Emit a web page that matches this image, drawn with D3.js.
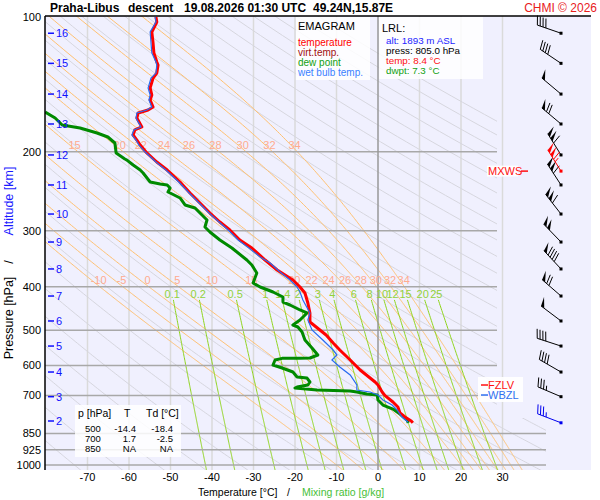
<!DOCTYPE html>
<html>
<head>
<meta charset="utf-8">
<title>Emagram</title>
<script src="https://d3js.org/d3.v7.min.js"></script>
<style>
body { margin: 0; background: #fff; }
text { font-family: "Liberation Sans", Arial, sans-serif; }
</style>
</head>
<body>
<div id="chart"></div>
<script>
// ---- data ----
const pressureTicks = [100, 200, 300, 400, 500, 600, 700, 850, 925, 1000];
const isobars = [200, 300, 400, 500, 600, 700, 850, 925, 1000];
const tempTicks = [-70, -60, -50, -40, -30, -20, -10, 0, 10, 20, 30];
const isotherms = [-70, -60, -50, -40, -30, -20, -10, 0, 10, 20, 30];

const altKm = [2, 3, 4, 5, 6, 7, 8, 9, 10, 11, 12, 13, 14, 15, 16];
const altP = [797.6, 703.9, 620.1, 542.6, 477.0, 419.6, 365.1, 317.9, 275.3, 237.1, 203.2, 173.3, 148.6, 126.9, 108.7];

const dryTheta = [200, 210, 220, 230, 240, 250, 260, 270, 280, 290, 300, 310, 320, 330, 340, 350, 360, 370, 380, 390, 400, 410, 420, 430, 440, 450, 460, 470, 480, 490, 500];
const moistThetaW = [-10, -5, 0, 5, 10, 15, 20, 22, 24, 26, 28, 30, 32, 34];
const mixRatios = [0.1, 0.2, 0.5, 1, 1.4, 2, 3, 4, 6, 8, 10, 12, 15, 20, 25];

// temperature profile (p hPa, T degC)
const tempP = [100, 102.6, 108.0, 114.3, 120.3, 126.0, 128.0, 133.4, 136.8, 144.0, 149.3, 153.2, 158.8, 161.3, 163.8, 168.1, 176.0, 178.7, 183.4, 188.2, 193.1, 200.2, 210.7, 219.6, 233.5, 247.1, 260.1, 273.9, 286.8, 298.9, 314.6, 327.8, 348.7, 367.0, 386.4, 400.6, 413.1, 434.9, 457.8, 479.5, 492.0, 512.7, 534.2, 553.8, 582.9, 613.7, 652.7, 662.9, 687.2, 700.0, 723.5, 742.3, 765.5, 781.4, 797.6, 805.0];
const tempT = [-53.5, -53.3, -54.5, -54.2, -54.0, -53.3, -53.0, -53.3, -54.2, -54.9, -54.5, -54.9, -54.2, -55.4, -57.8, -58.1, -56.9, -58.6, -59.0, -58.1, -57.3, -55.9, -53.3, -50.8, -47.7, -45.3, -42.9, -40.5, -38.1, -35.7, -33.3, -30.4, -27.2, -24.3, -20.5, -18.8, -17.6, -16.9, -16.4, -16.4, -14.9, -12.5, -10.8, -9.2, -6.7, -4.3, -0.7, 0.0, 1.0, 1.7, 3.6, 4.8, 5.3, 6.5, 8.0, 8.4];

// dew point profile
const dewP = [163.0, 168.1, 174.2, 176.9, 181.5, 185.3, 191.1, 201.2, 207.5, 208.6, 214.0, 219.6, 223.0, 233.5, 235.9, 237.1, 240.8, 245.8, 248.4, 253.5, 262.8, 266.9, 276.7, 283.9, 294.3, 301.9, 314.6, 327.8, 348.7, 357.8, 372.8, 392.4, 400.6, 411.0, 421.7, 432.7, 439.4, 450.8, 457.8, 474.6, 487.0, 492.0, 504.8, 526.0, 548.1, 568.2, 577.0, 577.5, 578.0, 582.9, 598.1, 607.4, 620.1, 636.2, 639.5, 652.7, 662.9, 669.8, 673.2, 680.2, 683.6, 687.2, 694.3, 697.9, 716.0, 734.7, 750.0, 769.5, 793.6, 805.0];
const dewT = [-80.2, -77.8, -76.1, -71.8, -67.7, -65.1, -63.4, -63.1, -61.0, -60.5, -59.0, -57.3, -56.6, -54.9, -52.5, -50.8, -50.1, -50.6, -49.6, -47.7, -46.5, -44.1, -42.4, -41.2, -41.7, -40.5, -38.1, -35.2, -31.6, -30.4, -29.2, -30.1, -28.4, -25.3, -22.9, -22.9, -21.2, -18.8, -17.1, -18.8, -20.5, -19.3, -18.3, -17.6, -15.9, -14.5, -16.4, -18.8, -23.1, -24.8, -25.3, -23.1, -20.5, -19.5, -17.1, -16.4, -16.9, -19.5, -20.0, -14.7, -6.7, -5.1, -2.7, -0.2, 0.0, 1.2, 3.6, 5.3, 7.0, 7.3];

// wet bulb temperature profile
const wetP = [100, 102.6, 108.0, 114.3, 120.3, 126.0, 128.0, 133.4, 136.8, 144.0, 149.3, 153.2, 158.8, 161.3, 163.8, 168.1, 176.0, 178.7, 183.4, 188.2, 193.1, 200.2, 210.7, 219.6, 233.5, 247.1, 260.1, 273.9, 286.8, 298.9, 314.6, 327.8, 343.3, 354.1, 370.9, 386.4, 400.6, 411.0, 428.2, 457.8, 474.6, 499.6, 526.0, 553.8, 568.2, 582.9, 604.3, 629.7, 662.9, 680.2, 687.2, 697.9, 716.0, 734.7, 753.8, 781.4, 801.8];
const wetT = [-53.7, -53.5, -54.9, -54.7, -54.5, -53.5, -53.3, -53.5, -54.7, -55.4, -54.9, -55.2, -54.5, -55.7, -58.1, -58.3, -57.1, -58.8, -59.3, -58.3, -57.6, -56.1, -53.5, -51.1, -48.0, -45.5, -43.1, -40.7, -38.3, -36.1, -33.7, -31.1, -28.4, -26.0, -23.6, -21.2, -19.5, -18.8, -18.1, -16.4, -16.9, -15.9, -13.3, -10.8, -9.9, -11.1, -9.2, -6.7, -5.1, -5.1, -1.9, 0.0, 1.2, 3.4, 4.6, 5.8, 7.2];

// winds, one barb per km level (direction deg, speed kt)
const windP = [703.9, 620.1, 542.6, 477.0, 419.6, 365.1, 317.9, 275.3, 237.1, 203.2, 173.3, 148.6, 126.9, 108.7];
const windDir = [293, 300, 288, 307, 311, 317, 316, 322, 327, 328, 310, 310, 304, 289];
const windSpd = [35, 40, 40, 50, 70, 90, 100, 110, 110, 110, 70, 50, 40, 40];
const mxwsP = 220.8, mxwsDir = 328, mxwsSpd = 115;
const lrlP = 805.0, lrlDir = 291, lrlSpd = 35;
const fzlvP = 662.9, wbzlP = 697.9;

const tableRows = [["500", "-14.4", "-18.4"], ["700", "1.7", "-2.5"], ["850", "NA", "NA"]];

// ---- drawing ----
const W = 600, H = 500;
const svg = d3.select("#chart").append("svg").attr("width", W).attr("height", H);

const x = d3.scaleLinear().domain([-80, 40]).range([46, 544]);
const y = d3.scaleLog().domain([100, 1000]).range([17, 465]);
const line = d3.line().x(d => x(d[1])).y(d => y(d[0]));

svg.append("rect").attr("x", 45).attr("y", 16).attr("width", 546).attr("height", 454).attr("fill", "#f0f0fe");

svg.append("defs").append("clipPath").attr("id", "diag")
    .append("path").attr("d", "M45,16H497V418H546V470H45Z");

// isotherms
svg.append("g").selectAll("line").data(isotherms.filter(t => t !== 0)).join("line")
    .attr("x1", d => x(d)).attr("x2", d => x(d)).attr("y1", 16).attr("y2", 470)
    .attr("stroke", "#dadada").attr("stroke-width", 1.5);

const diag = svg.append("g").attr("clip-path", "url(#diag)");

// dry adiabats
const pSteps = d3.range(95, 1061, 5);
diag.append("g").selectAll("path").data(dryTheta).join("path")
    .attr("d", th => line(pSteps.map(p => [p, th * Math.pow(p / 1000, 0.2857) - 273.15])))
    .attr("fill", "none").attr("stroke", "#d6d6de").attr("stroke-width", 1);

// moist (pseudo) adiabats
function dTdp(p, T) {
    const tc = T - 273.15;
    const e = 6.112 * Math.exp(17.67 * tc / (tc + 243.5));
    const r = 0.622 * e / (p - e);
    return (287.04 * T + 2.501e6 * r) / (p * (1005.7 + 2.501e6 * 2.501e6 * r * 0.622 / (287.04 * T * T)));
}
function moist(thw) {
    const up = [], down = [];
    let T = thw + 273.15, p = 1000, dp = -2;
    up.push([p, T - 273.15]);
    while (p > 95) {
        const k1 = dTdp(p, T), k2 = dTdp(p + dp / 2, T + k1 * dp / 2);
        T += k2 * dp; p += dp; up.push([p, T - 273.15]);
    }
    T = thw + 273.15; p = 1000; dp = 2;
    while (p < 1060) {
        const k1 = dTdp(p, T), k2 = dTdp(p + dp / 2, T + k1 * dp / 2);
        T += k2 * dp; p += dp; down.push([p, T - 273.15]);
    }
    return down.reverse().concat(up);
}
const moistLines = moistThetaW.map(t => ({ t, pts: moist(t) }));
diag.append("g").selectAll("path").data(moistLines).join("path")
    .attr("d", d => line(d.pts))
    .attr("fill", "none").attr("stroke", "#ffc070").attr("stroke-width", 1);

function tAt(pts, p) {
    const sorted = pts.slice().sort((a, b) => a[0] - b[0]);
    const i = d3.bisector(d => d[0]).left(sorted, p);
    const a = sorted[Math.max(0, i - 1)], b = sorted[Math.min(sorted.length - 1, i)];
    if (a[0] === b[0]) return a[1];
    return a[1] + (b[1] - a[1]) * (p - a[0]) / (b[0] - a[0]);
}

// mixing ratio lines
function tdOf(p, w) {
    const e = w * p / (622 + w);
    const L = Math.log(e / 6.112);
    return 243.5 * L / (17.67 - L);
}
const mixP = d3.range(428, 1036, 4);
diag.append("g").selectAll("path").data(mixRatios).join("path")
    .attr("d", w => line(mixP.map(p => [p, tdOf(p, w)])))
    .attr("fill", "none").attr("stroke", "#8fd41c").attr("stroke-width", 1);

// isobars
diag.append("g").selectAll("line").data(isobars).join("line")
    .attr("x1", 45).attr("x2", 546).attr("y1", d => y(d)).attr("y2", d => y(d))
    .attr("stroke", "#a8a8a8").attr("stroke-width", 1.5);

// 0 degC isotherm
svg.append("line").attr("x1", x(0)).attr("x2", x(0)).attr("y1", 16).attr("y2", 470)
    .attr("stroke", "#999").attr("stroke-width", 1.5);

// moist adiabat labels
const moistRows = [{ rowY: 280, p: 398, min: -99 }, { rowY: 145, p: 197, min: 15 }];
moistRows.forEach(r => {
    svg.append("g").selectAll("text").data(moistLines.filter(d => d.t >= r.min)).join("text")
        .attr("x", d => x(tAt(d.pts, r.p))).attr("y", r.rowY).attr("dy", "0.35em")
        .attr("text-anchor", "middle").attr("font-size", 11).attr("fill", "#ffab8f")
        .text(d => d.t);
});

// mixing ratio labels
svg.append("g").selectAll("text").data(mixRatios).join("text")
    .attr("x", w => x(tdOf(415, w)) + (w === 1.4 ? 2 : 0)).attr("y", 294).attr("dy", "0.35em")
    .attr("text-anchor", "middle").attr("font-size", 11).attr("fill", "#92d23c")
    .text(w => w);

// profiles
const prof = svg.append("g").attr("clip-path", "url(#diag)");
prof.append("path").attr("d", line(dewP.map((p, i) => [p, dewT[i]])))
    .attr("fill", "none").attr("stroke", "#008a00").attr("stroke-width", 3).attr("stroke-linejoin", "round");
prof.append("path").attr("d", line(tempP.map((p, i) => [p, tempT[i]])))
    .attr("fill", "none").attr("stroke", "#ff0000").attr("stroke-width", 3).attr("stroke-linejoin", "round");
prof.append("path").attr("d", line(wetP.map((p, i) => [p, wetT[i]])))
    .attr("fill", "none").attr("stroke", "#2a6cf0").attr("stroke-width", 1.2);

// frame
svg.append("line").attr("x1", 45).attr("x2", 591).attr("y1", 16).attr("y2", 16).attr("stroke", "#000").attr("stroke-width", 1.5);
svg.append("line").attr("x1", 45).attr("x2", 45).attr("y1", 16).attr("y2", 470).attr("stroke", "#000").attr("stroke-width", 1.5);

// pressure labels
svg.append("g").selectAll("text").data(pressureTicks).join("text")
    .attr("x", 41).attr("y", d => y(d)).attr("dy", "0.35em").attr("text-anchor", "end")
    .attr("font-size", 11).attr("fill", "#000").text(d => d);

// altitude labels
const alt = svg.append("g").selectAll("g").data(altKm).join("g")
    .attr("transform", (d, i) => `translate(0,${y(altP[i])})`);
alt.append("line").attr("x1", 48).attr("x2", 54).attr("stroke", "#1010ff").attr("stroke-width", 1.5);
alt.append("text").attr("x", 56).attr("dy", "0.35em").attr("font-size", 11).attr("fill", "#1010ff").text(d => d);

// temperature labels
svg.append("g").selectAll("text").data(tempTicks).join("text")
    .attr("x", d => x(d)).attr("y", 481).attr("text-anchor", "middle")
    .attr("font-size", 11).attr("fill", "#000").text(d => d);

// axis titles
svg.append("text").attr("x", 198).attr("y", 496).attr("font-size", 10.5).text("Temperature [°C]");
svg.append("text").attr("x", 287).attr("y", 496).attr("font-size", 10.5).text("/");
svg.append("text").attr("x", 302).attr("y", 496).attr("font-size", 10.5).attr("fill", "#48c038").text("Mixing ratio [g/kg]");
const yt = svg.append("g").attr("transform", "translate(13,0) rotate(-90)");
yt.append("text").attr("x", -318).attr("text-anchor", "middle").attr("font-size", 12.5).text("Pressure [hPa]");
yt.append("text").attr("x", -262).attr("text-anchor", "middle").attr("font-size", 12.5).text("/");
yt.append("text").attr("x", -201).attr("text-anchor", "middle").attr("font-size", 12.5).attr("fill", "#1a1aff").text("Altitude [km]");

// title
const title = [["Praha-Libus", 50], ["descent", 128], ["19.08.2026 01:30 UTC", 184], ["49.24N,15.87E", 313]];
svg.append("g").selectAll("text").data(title).join("text")
    .attr("x", d => d[1]).attr("y", 12).attr("font-size", 12).attr("font-weight", "bold").text(d => d[0]);
svg.append("text").attr("x", 597).attr("y", 12).attr("text-anchor", "end").attr("font-size", 12)
    .attr("fill", "#e8201c").text("CHMI © 2026");

// legend box
svg.append("rect").attr("x", 296).attr("y", 17).attr("width", 74).attr("height", 63).attr("fill", "#fff").attr("opacity", 0.85);
svg.append("text").attr("x", 298).attr("y", 30).attr("font-size", 11).text("EMAGRAM");
const legend = [["temperature", "#ff0000"], ["virt.temp.", "#a01010"], ["dew point", "#10a010"], ["wet bulb temp.", "#3a80ff"]];
svg.append("g").selectAll("text").data(legend).join("text")
    .attr("x", 298).attr("y", (d, i) => 45.5 + i * 10).attr("font-size", 10).attr("fill", d => d[1]).text(d => d[0]);

// LRL box
svg.append("rect").attr("x", 379).attr("y", 17).attr("width", 104).attr("height", 62).attr("fill", "#fff").attr("opacity", 0.85);
svg.append("text").attr("x", 382).attr("y", 32).attr("font-size", 11).text("LRL:");
const lrl = [["alt: 1893 m ASL", "#2424ff"], ["press: 805.0 hPa", "#000"], ["temp: 8.4 °C", "#ff1010"], ["dwpt: 7.3 °C", "#10a010"]];
svg.append("g").selectAll("text").data(lrl).join("text")
    .attr("x", 386).attr("y", (d, i) => 43.5 + i * 10).attr("font-size", 9.8).attr("fill", d => d[1]).text(d => d[0]);

// table box
svg.append("rect").attr("x", 75).attr("y", 405).attr("width", 106).attr("height", 52).attr("fill", "#fff").attr("opacity", 0.85);
svg.append("text").attr("x", 78).attr("y", 417).attr("font-size", 10.5).text("p [hPa]");
svg.append("text").attr("x", 124).attr("y", 417).attr("font-size", 10.5).text("T");
svg.append("text").attr("x", 146).attr("y", 417).attr("font-size", 10.5).text("Td [°C]");
tableRows.forEach((r, i) => {
    const yy = 432 + i * 10;
    svg.append("text").attr("x", 85).attr("y", yy).attr("font-size", 9.5).text(r[0]);
    svg.append("text").attr("x", 136).attr("y", yy).attr("text-anchor", "end").attr("font-size", 9.5).text(r[1]);
    svg.append("text").attr("x", 173).attr("y", yy).attr("text-anchor", "end").attr("font-size", 9.5).text(r[2]);
});

// freezing level labels
svg.append("rect").attr("x", 478).attr("y", 377).attr("width", 45).attr("height", 25).attr("fill", "#fff").attr("opacity", 0.9);
[[fzlvP, "FZLV", "#ff1010"], [wbzlP, "WBZL", "#3070f0"]].forEach(d => {
    const yy = y(d[0]);
    svg.append("line").attr("x1", 481).attr("x2", 488).attr("y1", yy).attr("y2", yy).attr("stroke", d[2]).attr("stroke-width", 1.5);
    svg.append("text").attr("x", 488).attr("y", yy).attr("dy", "0.35em").attr("font-size", 11).attr("fill", d[2]).text(d[1]);
});

// max wind label
const ym = y(mxwsP);
svg.append("rect").attr("x", 487).attr("y", ym - 5.5).attr("width", 31).attr("height", 11).attr("fill", "#fff").attr("opacity", 0.9);
svg.append("text").attr("x", 488).attr("y", ym).attr("dy", "0.35em").attr("font-size", 11).attr("fill", "#ff1010").text("MXWS");
svg.append("line").attr("x1", 521).attr("x2", 528).attr("y1", ym).attr("y2", ym).attr("stroke", "#ff1010").attr("stroke-width", 1.5);

// wind barbs
function barb(g, bx, by, dir, spd, col) {
    const a = dir * Math.PI / 180;
    const u = [Math.sin(a), -Math.cos(a)];
    const f = [-u[1], u[0]];
    const L = 25, FL = 9;
    const tip = [bx + u[0] * L, by + u[1] * L];
    const fv = [f[0] * FL + u[0] * 3, f[1] * FL + u[1] * 3];
    const at = s => [tip[0] - u[0] * s, tip[1] - u[1] * s];
    g.append("line").attr("x1", bx).attr("y1", by).attr("x2", tip[0]).attr("y2", tip[1]).attr("stroke", col).attr("stroke-width", 1);
    g.append("rect").attr("x", bx - 1.5).attr("y", by - 1.5).attr("width", 3).attr("height", 3).attr("fill", col);
    let rem = Math.round(spd / 5) * 5, s = 0, pen = false;
    while (rem >= 50) {
        const p0 = at(s), p1 = at(s + 4);
        g.append("path").attr("d", `M${p0[0]},${p0[1]}L${p0[0] + fv[0]},${p0[1] + fv[1]}L${p1[0]},${p1[1]}Z`).attr("fill", col);
        s += 5; rem -= 50; pen = true;
    }
    if (pen) s += 1;
    while (rem >= 10) {
        const p0 = at(s);
        g.append("line").attr("x1", p0[0]).attr("y1", p0[1]).attr("x2", p0[0] + fv[0]).attr("y2", p0[1] + fv[1]).attr("stroke", col).attr("stroke-width", 1);
        s += 3; rem -= 10;
    }
    if (rem >= 5) {
        if (s === 0) s = 3;
        const p0 = at(s);
        g.append("line").attr("x1", p0[0]).attr("y1", p0[1]).attr("x2", p0[0] + fv[0] * 0.5).attr("y2", p0[1] + fv[1] * 0.5).attr("stroke", col).attr("stroke-width", 1);
    }
}
const barbs = svg.append("g");
windP.forEach((p, i) => barb(barbs, 561, y(p), windDir[i], windSpd[i], "#000"));
barb(barbs, 561, y(mxwsP), mxwsDir, mxwsSpd, "#ff0000");
barb(barbs, 561, y(lrlP), lrlDir, lrlSpd, "#0000ee");
</script>
</body>
</html>
